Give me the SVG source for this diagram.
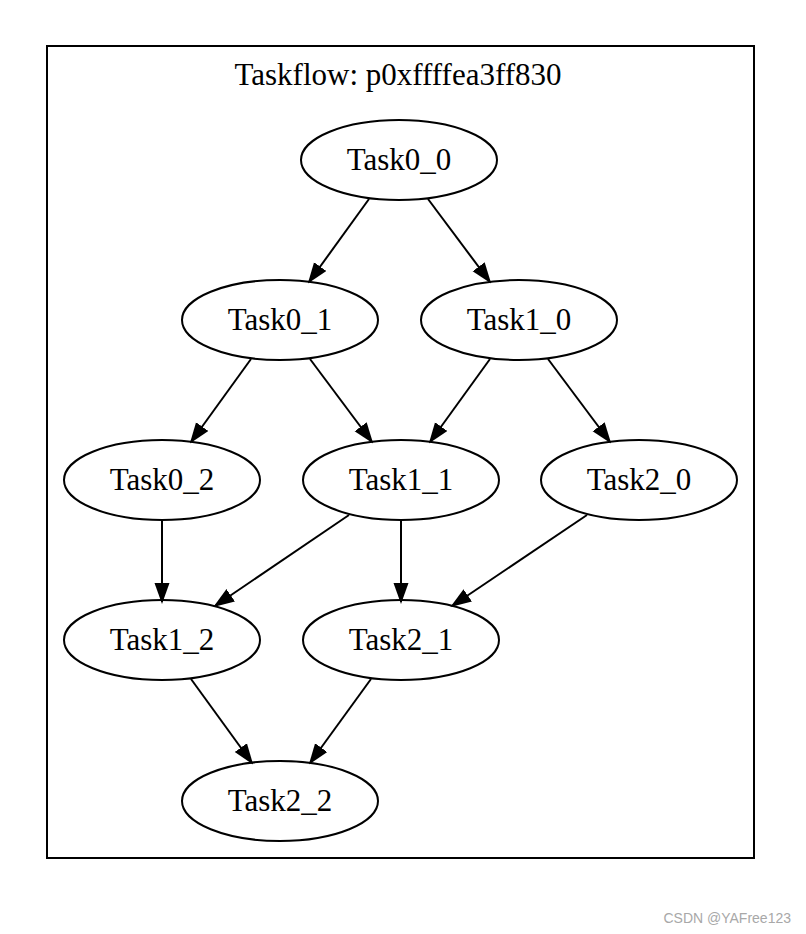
<svg xmlns="http://www.w3.org/2000/svg" width="806" height="934" viewBox="0 0 806 934">
<style>
.node ellipse{fill:none;stroke:#000;stroke-width:2}
.node text,.title{font-family:"Liberation Serif","Times New Roman",serif;font-size:31px;fill:#000;text-anchor:middle}
.edges line{stroke:#000;stroke-width:2}
.wm{font-family:"Liberation Sans",Arial,sans-serif;font-size:14px;fill:#a8a8a8;text-anchor:end}
</style>
<defs>
<marker id="ah" markerUnits="userSpaceOnUse" markerWidth="21" markerHeight="16" refX="19" refY="8" orient="auto">
<path d="M0,0.5 L21,8 L0,15.5 z" fill="#000"/>
</marker>
</defs>
<rect x="0" y="0" width="806" height="934" fill="#fff"/>
<rect x="47" y="46" width="707" height="812" fill="none" stroke="#000" stroke-width="2"/>
<text class="title" x="398" y="85">Taskflow: p0xffffea3ff830</text>
<g class="edges">
<line x1="369" y1="199" x2="309" y2="282" marker-end="url(#ah)"/>
<line x1="428" y1="199" x2="490" y2="282" marker-end="url(#ah)"/>
<line x1="251" y1="359" x2="191" y2="442" marker-end="url(#ah)"/>
<line x1="310" y1="359" x2="372" y2="442" marker-end="url(#ah)"/>
<line x1="490" y1="359" x2="430" y2="442" marker-end="url(#ah)"/>
<line x1="548" y1="359" x2="610" y2="442" marker-end="url(#ah)"/>
<line x1="162" y1="520" x2="162" y2="602" marker-end="url(#ah)"/>
<line x1="349" y1="515" x2="215" y2="606" marker-end="url(#ah)"/>
<line x1="401" y1="520" x2="401" y2="602" marker-end="url(#ah)"/>
<line x1="587" y1="515" x2="452" y2="606" marker-end="url(#ah)"/>
<line x1="191" y1="679" x2="252" y2="763" marker-end="url(#ah)"/>
<line x1="371" y1="679" x2="310" y2="763" marker-end="url(#ah)"/>
</g>
<g id="Task0_0" class="node"><ellipse cx="399" cy="160" rx="98" ry="40"/><text x="399" y="170">Task0_0</text></g>
<g id="Task0_1" class="node"><ellipse cx="280" cy="320" rx="98" ry="40"/><text x="280" y="330">Task0_1</text></g>
<g id="Task1_0" class="node"><ellipse cx="519" cy="320" rx="98" ry="40"/><text x="519" y="330">Task1_0</text></g>
<g id="Task0_2" class="node"><ellipse cx="162" cy="480" rx="98" ry="40"/><text x="162" y="490">Task0_2</text></g>
<g id="Task1_1" class="node"><ellipse cx="401" cy="480" rx="98" ry="40"/><text x="401" y="490">Task1_1</text></g>
<g id="Task2_0" class="node"><ellipse cx="639" cy="480" rx="98" ry="40"/><text x="639" y="490">Task2_0</text></g>
<g id="Task1_2" class="node"><ellipse cx="162" cy="640" rx="98" ry="40"/><text x="162" y="650">Task1_2</text></g>
<g id="Task2_1" class="node"><ellipse cx="401" cy="640" rx="98" ry="40"/><text x="401" y="650">Task2_1</text></g>
<g id="Task2_2" class="node"><ellipse cx="280" cy="801" rx="98" ry="40"/><text x="280" y="811">Task2_2</text></g>
<text class="wm" x="791" y="923">CSDN @YAFree123</text>
</svg>
